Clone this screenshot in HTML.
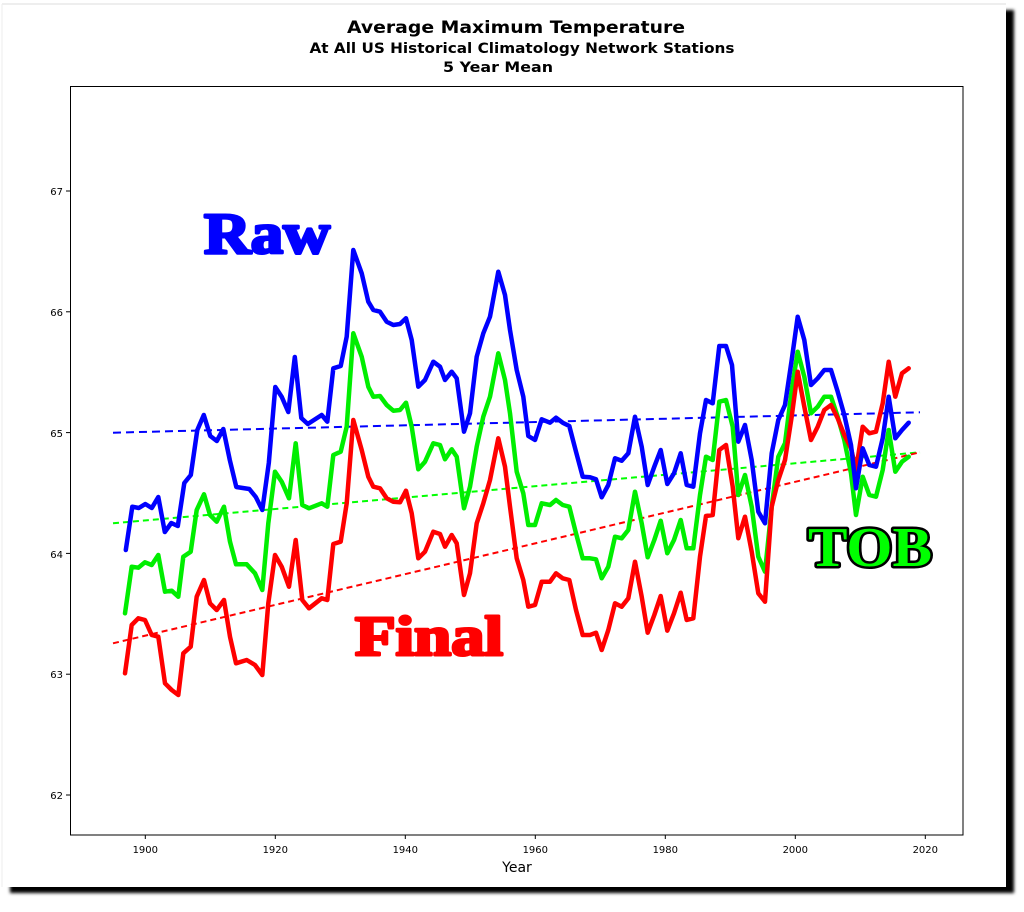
<!DOCTYPE html>
<html><head><meta charset="utf-8"><style>
html,body{margin:0;padding:0;background:#fff;}
body{width:1024px;height:907px;overflow:hidden;}
</style></head><body>
<svg width="1024" height="907" viewBox="0 0 1024 907" xmlns="http://www.w3.org/2000/svg">
<defs><filter id="b" x="-5%" y="-5%" width="110%" height="110%"><feGaussianBlur stdDeviation="1.5"/></filter></defs>
<rect x="0" y="0" width="1024" height="907" fill="#fff"/>
<rect x="10" y="10" width="1004" height="883" fill="#000" filter="url(#b)"/>
<rect x="2" y="4" width="1004" height="883" fill="#fff"/>
<line x1="2" y1="4" x2="1006" y2="4" stroke="#ddd" stroke-width="1"/>
<line x1="2" y1="4" x2="2" y2="887" stroke="#eee" stroke-width="1"/>

<g font-family="DejaVu Sans, Liberation Sans, sans-serif" font-weight="bold" fill="#000" text-anchor="middle">
<text x="516" y="33" font-size="17" textLength="338" lengthAdjust="spacingAndGlyphs">Average Maximum Temperature</text>
<text x="522" y="53" font-size="14" textLength="425" lengthAdjust="spacingAndGlyphs">At All US Historical Climatology Network Stations</text>
<text x="498" y="72" font-size="14" textLength="110" lengthAdjust="spacingAndGlyphs">5 Year Mean</text>
</g>

<rect x="70.5" y="86.5" width="892.5" height="748.5" fill="none" stroke="#000" stroke-width="1"/>

<g stroke="#000" stroke-width="1">
<line x1="66" y1="191" x2="70" y2="191"/><line x1="66" y1="311.8" x2="70" y2="311.8"/>
<line x1="66" y1="432.6" x2="70" y2="432.6"/><line x1="66" y1="553.4" x2="70" y2="553.4"/>
<line x1="66" y1="674.2" x2="70" y2="674.2"/><line x1="66" y1="795" x2="70" y2="795"/>
<line x1="145.3" y1="835" x2="145.3" y2="839"/><line x1="275.3" y1="835" x2="275.3" y2="839"/>
<line x1="405.3" y1="835" x2="405.3" y2="839"/><line x1="535.3" y1="835" x2="535.3" y2="839"/>
<line x1="665.3" y1="835" x2="665.3" y2="839"/><line x1="795.3" y1="835" x2="795.3" y2="839"/>
<line x1="925.3" y1="835" x2="925.3" y2="839"/>
</g>
<g font-family="DejaVu Sans, Liberation Sans, sans-serif" font-size="10" fill="#000" text-anchor="end">
<text x="63" y="195">67</text><text x="63" y="316">66</text><text x="63" y="437">65</text>
<text x="63" y="558">64</text><text x="63" y="678">63</text><text x="63" y="799">62</text>
</g>
<g font-family="DejaVu Sans, Liberation Sans, sans-serif" font-size="10" fill="#000" text-anchor="middle">
<text x="145.3" y="853">1900</text><text x="275.3" y="853">1920</text><text x="405.3" y="853">1940</text>
<text x="535.3" y="853">1960</text><text x="665.3" y="853">1980</text><text x="795.3" y="853">2000</text>
<text x="925.3" y="853">2020</text>
<text x="517" y="872" font-size="14">Year</text>
</g>

<g fill="none" stroke-width="2" stroke-dasharray="8,5">
<line x1="113" y1="432.7" x2="920" y2="412.3" stroke="#0000ff"/>
<line x1="113" y1="523.3" x2="920" y2="452.3" stroke="#00ff00" stroke-dasharray="6,4"/>
<line x1="113" y1="643.3" x2="920" y2="452.3" stroke="#ff0000" stroke-dasharray="6,4"/>
</g>

<g fill="none" stroke-width="4.5" stroke-linejoin="round" stroke-linecap="round">
<polyline stroke="#00ee00" points="125,613.3 131.7,566.7 138.3,567.7 145,562.3 151.7,565 158.3,555 165,591.7 171.7,590.7 178.3,596.7 183.3,556.7 190.7,551.7 196.7,510 204,494.3 210,515 216.7,521.7 224,506.7 230,541.7 236,564.3 246.7,564.3 255,573.3 262.3,590 268.3,523.3 275,471.7 281.7,481.7 289,498.3 295.7,443.3 302.3,505 309,508.3 321.7,503.3 327.3,506.7 333.3,455 340.7,451.7 346.7,426.7 353.3,333.3 361.7,356.7 368.3,386.7 373.3,396.7 380,396 386.7,405 393.3,410.7 400,410 406,402.7 411.7,426.7 418.3,469.3 425,461.7 433.3,443.3 440,445 445,459.3 451.7,449.3 456.7,456.7 464,508.3 470,486.7 476.7,446.7 483.3,416.7 490,396.7 498.3,353.3 505,380 510,413.3 516.7,471.7 523.3,493.3 528.3,525 535,525 541.7,503.3 550,505 556,500 562.7,505 569.3,506.7 576,533.3 582.7,558.3 590,558.3 596,559.3 601.7,578.3 608.3,566.7 615,536.7 621.7,538.3 628.3,530 635,491.7 641.7,523.3 647.7,557.3 654.3,540 660.7,520.7 667.3,553.3 674,540 680.7,520 686.7,548.3 693.3,548.3 700,495 706,456.7 712.7,460 719.3,401.7 726,400 732.7,426.7 738.3,495 745,475 751.7,506.7 758.3,556.7 765,571.7 771.7,506.7 778.3,456.7 785,443.3 791.7,390 797.7,351.7 804.3,376.7 811,413.3 817.7,406.7 824.3,396.7 831,396.7 837.7,416.7 844.3,440 851,473.3 856,515 862.7,476.7 869.3,495 876,496.7 882.7,470 888.7,430 895.3,471.7 902,461.7 908.7,456.7"/>
<polyline stroke="#ff0000" points="125,673.3 131.7,625 138.3,618.3 145,620 151.7,635 158.3,636.7 165,683.3 171.7,690 178.3,695 183.3,653.3 190.7,646.7 196.7,596.7 204,580 210,603.3 216.7,610 224,600 230,636.7 236,663.3 246.7,660 255,665 262.3,675 268.3,603.3 275,555 281.7,566.7 289,586.7 295.7,540 302.3,600 309,608.3 321.7,598.3 327.3,600 333.3,544 340.7,541.7 346.7,503.3 353.3,420 361.7,450 368.3,476.7 373.3,486.7 380,488.3 386.7,498.3 393.3,501.7 400,502.3 406,490.7 411.7,513.3 418.3,558.3 425,551.7 433.3,531.7 440,534 445,546.7 451.7,535 456.7,543.3 464,595 470,573.3 476.7,523.3 483.3,503.3 490,480 498.3,438.3 505,466.7 510,506.7 516.7,558.3 523.3,580 528.3,606.7 535,605 541.7,581.7 550,581.7 556,573.3 562.7,578.3 569.3,580 576,610 582.7,635 590,635 596,632.7 601.7,650 608.3,630 615,603.3 621.7,606.7 628.3,598.3 635,561.7 641.7,596.7 647.7,632.7 654.3,615 660.7,596 667.3,630.7 674,613.3 680.7,592.7 686.7,620 693.3,618.3 700,556.7 706,516 712.7,515 719.3,450 726,445 732.7,486.7 738.3,538.3 745,516.7 751.7,551.7 758.3,593.3 765,601.7 771.7,506.7 778.3,480 785,460 791.7,416.7 797.7,371.7 804.3,406.7 811,440 817.7,426.7 824.3,410 831,405 837.7,418.3 844.3,435 851,448.3 856,470 862.7,426.7 869.3,433.3 876,431.7 882.7,403.3 888.7,361.7 895.3,396.7 902,373.3 908.7,368.3"/>
<polyline stroke="#0000ff" points="125.8,550 132.3,506.7 138.8,508 145.3,504 151.8,508 158.3,497 164.8,532 171.3,523 177.8,526 184.3,483 190.8,475 197.3,430 203.8,415 210.3,436 216.8,441 223.3,429 229.8,460 236.3,487 242.8,488 249.3,489 255.8,497 262.3,510 268.8,463 275.3,387 281.8,397 288.3,412 294.8,357 301.3,418 307.8,424 321.7,415 327.3,421.7 333.3,368.3 340.7,366 346.7,336.7 353.3,250 361.7,273.3 368.3,301.7 373.3,310 380,311.7 386.7,321.7 393.3,325 400,324 406,318.3 411.7,340 418.3,386.7 425,380 433.3,361.7 440,366.7 445,380 451.7,371.7 456.7,378.3 464,431.7 470,413.3 476.7,356.7 483.3,333.3 490,316.7 498.3,271.7 505,295 510,330 516.7,370 523.3,396.7 528.3,436 535,440 541.7,419.3 550,422.7 556,417.7 562.7,422.7 569.3,426 576,451.7 582.7,476.7 590,477.3 596,479.3 601.7,497.3 608.3,485 615,458.3 621.7,460.7 628.3,453.3 635,416.7 641.7,446.7 647.7,485 654.3,466.7 660.7,450 667.3,484 674,473.3 680.7,453.3 686.7,485 693.3,486.7 700,433.3 706,400 712.7,403.3 719.3,346 726,346 732,365 738.3,441.7 745,425 751.7,460 758.3,511.7 765,523.3 771.7,453.3 778.3,420 785,405 791.7,360 797.7,316.7 804.3,340 811,385 817.7,378.3 824.3,370 831,370 837.7,391.7 844.3,415 851,445 856,488.3 862.7,448.3 869.3,465 876,466.7 882.7,438.3 888.7,396.7 895.3,438.3 902,430 908.7,422.7"/>
</g>

<g font-family="Liberation Serif, DejaVu Serif, serif" font-weight="bold" stroke-linejoin="round">
<text x="204" y="253" font-size="58" fill="#0000ff" stroke="#0000ff" stroke-width="3" textLength="126" lengthAdjust="spacingAndGlyphs">Raw</text>
<text x="355" y="655" font-size="56" fill="#ff0000" stroke="#ff0000" stroke-width="3" textLength="148" lengthAdjust="spacingAndGlyphs">Final</text>
<text x="808" y="566" font-size="56" fill="#00ff00" stroke="#000" stroke-width="5" paint-order="stroke" textLength="124" lengthAdjust="spacingAndGlyphs">TOB</text>
</g>
</svg>
</body></html>
